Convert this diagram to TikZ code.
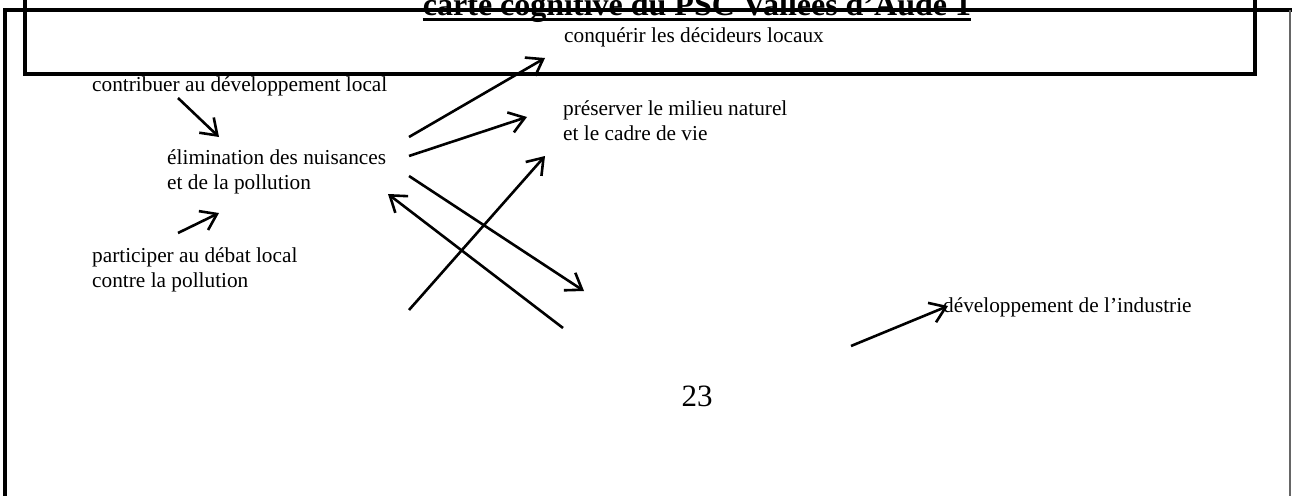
\documentclass[tikz,border=0pt]{standalone}
\usepackage{fontspec}
\setmainfont{Liberation Serif}
\usetikzlibrary{arrows.meta}
\begin{document}
\begin{tikzpicture}[x=1pt,y=-1pt,
  lbl/.style={anchor=base west,inner sep=0pt,align=left,font=\fontsize{21.3pt}{24.8pt}\selectfont},
  arr/.style={line width=2.6pt,-{Straight Barb[length=15pt,width=21pt]}},
  frame/.style={line width=4.5pt}]
\useasboundingbox (0,0) rectangle (1292,495);
\clip (0,0) rectangle (1292,495);
\fill[white] (0,0) rectangle (1292,495);
% frames
\draw[frame,line cap=rect] (5,500) -- (5,10) -- (1290,10);
\draw[line width=1.2pt,black!60] (1290,10) -- (1290,500);
\draw[line width=4pt] (25,-10) rectangle (1255,74);
% title
\node[anchor=base,inner sep=0pt,font=\bfseries\fontsize{32pt}{36pt}\selectfont] (title) at (697,16) {carte cognitive du PSC Vallées d’Aude 1};
\draw[line width=3pt] ([yshift=-4pt]title.base west) -- ([yshift=-4pt]title.base east);
% labels (base = baseline of last line)
\node[lbl] (conq) at (564,43) {conquérir les décideurs locaux};
\node[lbl] (contrib) at (92,92) {contribuer au développement local};
\node[lbl] (pres) at (563,140) {préserver le milieu naturel\\et le cadre de vie};
\node[lbl] (elim) at (167,189) {élimination des nuisances\\et de la pollution};
\node[lbl] (part) at (92,287) {participer au débat local\\contre la pollution};
\node[lbl] (indus) at (943,312) {développement de l’industrie};
\node[anchor=base,inner sep=0pt,font=\fontsize{31pt}{36pt}\selectfont] (page) at (697,406) {23};
% arrow ends
\coordinate (a1s) at (409,137); \coordinate (a1e) at (545,58);
\coordinate (a2s) at (409,156); \coordinate (a2e) at (527,117);
\coordinate (a3s) at (409,176); \coordinate (a3e) at (584,291);
\coordinate (a4s) at (563,328); \coordinate (a4e) at (388,194);
\coordinate (a5s) at (409,310); \coordinate (a5e) at (545,156);
\coordinate (a6s) at (178,98);  \coordinate (a6e) at (219,137);
\coordinate (a7s) at (178,233); \coordinate (a7e) at (219,213);
\coordinate (a8s) at (851,346); \coordinate (a8e) at (948,306);
\foreach \i in {1,...,8} {\draw[arr] (a\i s) -- (a\i e);}
\end{tikzpicture}
\end{document}
